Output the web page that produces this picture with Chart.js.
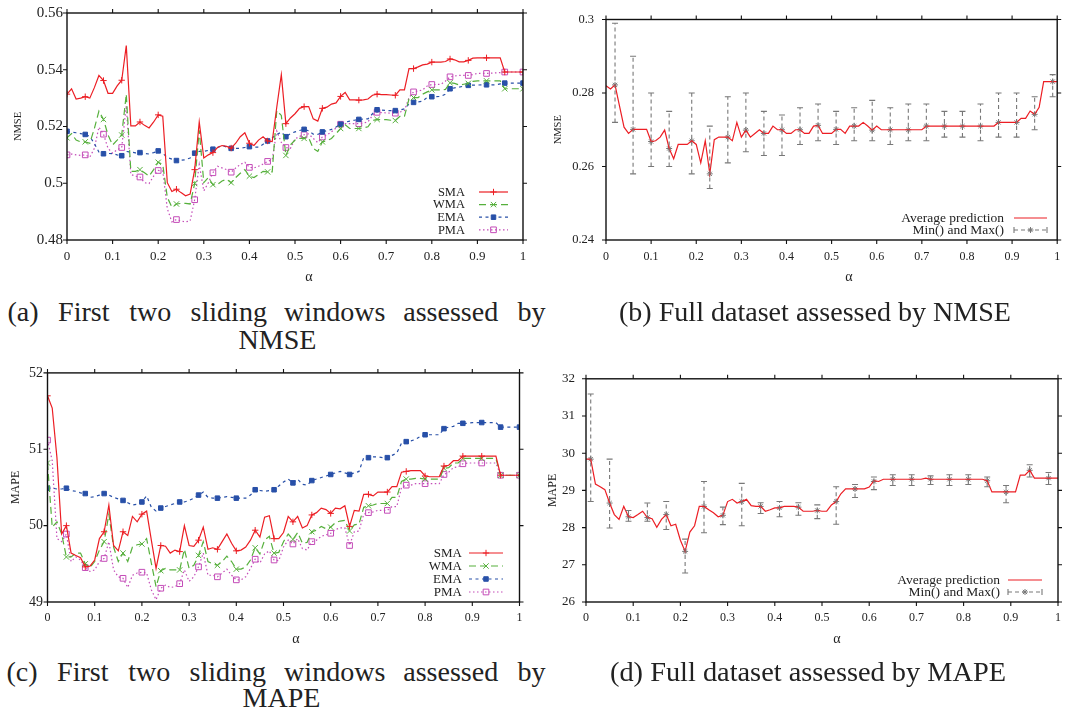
<!DOCTYPE html>
<html><head><meta charset="utf-8">
<script src="https://cdn.jsdelivr.net/npm/chart.js@4.4.1/dist/chart.umd.min.js"></script>
<style>
html,body{margin:0;padding:0;background:#fff;}
#page{position:relative;width:1070px;height:718px;overflow:hidden;font-family:"Liberation Serif","Times New Roman",serif;color:#222;background:#fff;}
.cv{position:absolute;}
.cap{position:absolute;font-size:27px;line-height:30px;white-space:nowrap;}
.just{display:flex;justify-content:space-between;}
.fit{display:inline-block;transform-origin:0 50%;}
</style></head><body>
<div id="page">
<canvas id="cA" class="cv" width="545" height="290" style="left:0px;top:0px"></canvas>
<canvas id="cB" class="cv" width="530" height="290" style="left:540px;top:0px"></canvas>
<canvas id="cC" class="cv" width="545" height="290" style="left:0px;top:360px"></canvas>
<canvas id="cD" class="cv" width="530" height="290" style="left:540px;top:360px"></canvas>
<div class="cap just" id="capA1" style="left:8px;top:297px;width:537px"></div>
<div class="cap" id="capA2" style="left:0px;top:325px;width:556px;text-align:center"></div>
<div class="cap" id="capB" style="left:619px;top:297px"><span class="fit" id="capBs"></span></div>
<div class="cap just" id="capC1" style="left:7px;top:657px;width:538px"></div>
<div class="cap" id="capC2" style="left:0px;top:683px;width:564px;text-align:center"></div>
<div class="cap" id="capD" style="left:610px;top:657px"><span class="fit" id="capDs"></span></div>
</div>
<script>
// ---------------- data ----------------
const alpha = [0,0.01,0.02,0.03,0.04,0.05,0.06,0.07,0.08,0.09,
0.10,0.11,0.12,0.13,0.14,0.15,0.16,0.17,0.18,0.19,
0.20,0.21,0.22,0.23,0.24,0.25,0.26,0.27,0.28,0.29,
0.30,0.31,0.32,0.33,0.34,0.35,0.36,0.37,0.38,0.39,
0.40,0.41,0.42,0.43,0.44,0.45,0.46,0.47,0.48,0.49,
0.50,0.51,0.52,0.53,0.54,0.55,0.56,0.57,0.58,0.59,
0.60,0.61,0.62,0.63,0.64,0.65,0.66,0.67,0.68,0.69,
0.70,0.71,0.72,0.73,0.74,0.75,0.76,0.77,0.78,0.79,
0.80,0.81,0.82,0.83,0.84,0.85,0.86,0.87,0.88,0.89,
0.90,0.91,0.92,0.93,0.94,0.95,0.96,0.97,0.98,0.99,1.00];

const maNames = ['SMA','WMA','EMA','PMA'];
const fullNames = ['Average prediction','Min() and Max()'];

// (a) NMSE, first two sliding windows
const aSMA = [.5314,.5333,.5297,.5300,.5305,.5300,.5337,.5380,.5362,.5317,
.5317,.5343,.5363,.5485,.5202,.5202,.5216,.5204,.5195,.5216,
.5241,.5236,.5002,.4971,.4979,.4967,.4956,.4962,.5048,.5216,
.5089,.5100,.5108,.5126,.5133,.5130,.5124,.5141,.5164,.5178,
.5141,.5133,.5152,.5164,.5149,.5147,.5268,.5383,.5210,.5230,
.5245,.5264,.5270,.5270,.5227,.5219,.5264,.5268,.5279,.5283,
.5306,.5320,.5294,.5294,.5293,.5294,.5297,.5310,.5314,.5312,
.5312,.5311,.5310,.5329,.5329,.5404,.5404,.5410,.5417,.5420,
.5427,.5427,.5427,.5429,.5438,.5435,.5428,.5428,.5433,.5441,
.5442,.5442,.5442,.5442,.5442,.5442,.5392,.5392,.5392,.5392,.5392];
const aWMA = [.5160,.5175,.5152,.5146,.5146,.5141,.5193,.5254,.5225,.5170,
.5135,.5152,.5170,.5314,.5042,.5042,.5048,.5037,.5025,.5048,
.5074,.5066,.4950,.4916,.4927,.4929,.4929,.4927,.4999,.5187,
.5002,.5020,.4995,.4996,.5008,.5014,.5002,.5020,.5035,.5048,
.5025,.5020,.5031,.5042,.5040,.5040,.5256,.5239,.5098,.5135,
.5152,.5158,.5158,.5160,.5123,.5112,.5146,.5150,.5158,.5175,
.5193,.5206,.5193,.5193,.5193,.5195,.5199,.5221,.5225,.5224,
.5224,.5222,.5221,.5236,.5236,.5297,.5302,.5302,.5314,.5322,
.5329,.5329,.5329,.5331,.5354,.5352,.5346,.5349,.5352,.5359,
.5361,.5361,.5361,.5361,.5361,.5361,.5333,.5333,.5333,.5333,.5333];
const aEMA = [.5183,.5180,.5178,.5175,.5172,.5165,.5140,.5110,.5104,.5105,
.5104,.5100,.5097,.5112,.5110,.5107,.5108,.5105,.5103,.5108,
.5114,.5105,.5091,.5085,.5080,.5081,.5083,.5089,.5106,.5112,
.5112,.5116,.5120,.5126,.5133,.5128,.5123,.5123,.5123,.5126,
.5129,.5127,.5127,.5137,.5149,.5160,.5172,.5180,.5164,.5175,
.5181,.5186,.5190,.5185,.5173,.5172,.5181,.5185,.5190,.5198,
.5208,.5215,.5219,.5222,.5225,.5226,.5227,.5245,.5259,.5258,
.5256,.5256,.5256,.5258,.5262,.5279,.5285,.5287,.5289,.5303,
.5305,.5305,.5306,.5314,.5333,.5336,.5339,.5342,.5345,.5346,
.5346,.5347,.5347,.5347,.5347,.5350,.5353,.5353,.5353,.5353,.5353];
const aPMA = [.5100,.5103,.5100,.5098,.5100,.5092,.5123,.5198,.5173,.5123,
.5106,.5118,.5126,.5273,.5031,.5025,.5022,.5002,.4999,.5025,
.5045,.5043,.4910,.4864,.4872,.4867,.4864,.4867,.4942,.5066,
.4973,.5002,.5037,.5060,.5054,.5048,.5039,.5054,.5066,.5074,
.5056,.5054,.5060,.5068,.5077,.5083,.5184,.5144,.5126,.5123,
.5156,.5165,.5171,.5174,.5158,.5143,.5163,.5170,.5181,.5195,
.5208,.5210,.5210,.5210,.5210,.5212,.5216,.5239,.5250,.5249,
.5248,.5247,.5247,.5251,.5256,.5302,.5322,.5325,.5329,.5343,
.5348,.5348,.5349,.5360,.5375,.5378,.5380,.5380,.5380,.5383,
.5387,.5387,.5387,.5388,.5389,.5390,.5392,.5392,.5392,.5392,.5392];

// (b) NMSE, full dataset
const bAvg = [.2820,.2811,.2822,.2764,.2707,.2690,.2701,.2701,.2701,.2701,
.2668,.2670,.2680,.2699,.2649,.2621,.2660,.2660,.2660,.2670,
.2660,.2610,.2670,.2580,.2673,.2680,.2680,.2680,.2670,.2720,
.2680,.2699,.2680,.2690,.2700,.2690,.2690,.2710,.2700,.2700,
.2690,.2690,.2700,.2700,.2690,.2690,.2710,.2712,.2690,.2690,
.2690,.2701,.2701,.2690,.2710,.2710,.2710,.2720,.2710,.2699,
.2710,.2700,.2700,.2700,.2700,.2700,.2700,.2700,.2700,.2700,
.2700,.2710,.2710,.2710,.2710,.2710,.2710,.2710,.2710,.2710,
.2710,.2710,.2710,.2710,.2710,.2710,.2710,.2720,.2720,.2720,
.2720,.2720,.2731,.2731,.2751,.2742,.2761,.2831,.2831,.2831,.2831];
const bErrX    = [0.02,0.06,0.10,0.14,0.19,0.23,0.27,0.31,0.35,0.39,0.43,0.47,0.51,0.55,0.59,0.63,0.67,0.71,0.75,0.79,0.83,0.87,0.91,0.95,0.99];
const bErrMean = [.2822,.2701,.2668,.2649,.2670,.2580,.2680,.2699,.2690,.2700,.2700,.2712,.2701,.2710,.2699,.2700,.2700,.2710,.2710,.2710,.2710,.2720,.2720,.2742,.2831];
const bErrMin  = [.272,.258,.260,.260,.258,.254,.261,.264,.263,.263,.266,.267,.266,.267,.267,.266,.267,.267,.268,.268,.267,.268,.268,.270,.279];
const bErrMax  = [.299,.290,.280,.275,.280,.271,.279,.280,.275,.274,.276,.277,.275,.276,.278,.276,.277,.277,.275,.275,.277,.280,.280,.279,.285];

// (c) MAPE, first two sliding windows
const cSMA = [51.70,51.54,50.89,49.89,50.00,49.64,49.61,49.58,49.46,49.47,
49.55,49.83,49.92,50.27,49.74,49.67,49.92,49.87,50.12,50.05,
50.15,50.19,49.81,49.44,49.74,49.73,49.64,49.68,49.66,50.00,
49.74,49.73,49.81,49.98,49.69,49.71,49.69,49.79,49.89,49.77,
49.67,49.68,49.72,49.81,49.94,49.85,50.11,50.13,49.83,49.83,
49.91,50.12,50.05,50.12,49.97,50.00,50.14,50.17,50.23,50.21,
50.16,50.23,50.22,50.26,49.99,50.20,50.19,50.41,50.41,50.39,
50.44,50.44,50.44,50.51,50.51,50.70,50.71,50.72,50.72,50.72,
50.65,50.64,50.64,50.64,50.78,50.79,50.85,50.85,50.91,50.91,
50.91,50.91,50.91,50.91,50.91,50.91,50.66,50.66,50.66,50.66,50.66];
const cWMA = [50.82,49.98,50.05,49.89,49.59,49.59,49.64,49.64,49.50,49.45,
49.53,49.68,49.79,50.15,49.72,49.53,49.64,49.53,49.72,49.75,
49.76,49.83,49.51,49.20,49.41,49.44,49.42,49.42,49.42,49.69,
49.44,49.48,49.61,49.79,49.53,49.50,49.48,49.53,49.60,49.53,
49.43,49.43,49.46,49.55,49.71,49.63,49.81,49.86,49.64,49.65,
49.79,49.89,49.82,49.91,49.77,49.78,49.92,49.94,49.99,49.96,
49.98,50.04,50.06,50.07,49.93,50.01,50.02,50.24,50.26,50.27,
50.29,50.29,50.29,50.37,50.37,50.58,50.61,50.61,50.62,50.62,
50.61,50.61,50.61,50.61,50.75,50.76,50.82,50.82,50.88,50.88,
50.88,50.88,50.88,50.88,50.88,50.88,50.66,50.66,50.66,50.66,50.66];
const cEMA = [50.49,50.49,50.48,50.48,50.49,50.46,50.45,50.43,50.42,50.37,
50.38,50.40,50.42,50.40,50.37,50.35,50.33,50.30,50.27,50.28,
50.31,50.39,50.24,50.19,50.23,50.25,50.27,50.29,50.31,50.31,
50.33,50.36,50.40,50.44,50.37,50.36,50.36,50.37,50.38,50.37,
50.36,50.36,50.36,50.40,50.47,50.46,50.45,50.46,50.47,50.52,
50.57,50.61,50.56,50.61,50.54,50.53,50.59,50.61,50.63,50.65,
50.67,50.69,50.71,50.69,50.67,50.69,50.71,50.89,50.89,50.90,
50.90,50.89,50.89,50.92,50.95,51.08,51.10,51.11,51.13,51.17,
51.19,51.19,51.19,51.19,51.27,51.29,51.30,51.34,51.34,51.34,
51.35,51.35,51.35,51.35,51.35,51.35,51.29,51.29,51.29,51.29,51.29];
const cPMA = [51.12,50.85,49.83,49.79,49.89,49.53,49.59,49.55,49.45,49.40,
49.42,49.53,49.57,49.79,49.42,49.33,49.31,49.19,49.35,49.38,
49.39,49.38,49.16,49.03,49.18,49.22,49.19,49.20,49.24,49.42,
49.27,49.33,49.46,49.64,49.35,49.35,49.33,49.38,49.43,49.35,
49.29,49.29,49.33,49.44,49.56,49.51,49.63,49.67,49.55,49.54,
49.72,49.81,49.76,49.83,49.70,49.68,49.79,49.81,49.86,49.88,
49.90,49.95,49.97,49.97,49.74,49.92,49.93,50.15,50.17,50.18,
50.20,50.20,50.20,50.25,50.25,50.50,50.53,50.53,50.55,50.55,
50.55,50.55,50.55,50.55,50.67,50.70,50.76,50.77,50.81,50.82,
50.82,50.82,50.82,50.82,50.82,50.82,50.66,50.66,50.66,50.66,50.66];

// (d) MAPE, full dataset
const dAvg = [29.84,29.84,29.17,29.10,29.02,28.66,28.35,28.22,28.57,28.29,
28.27,28.35,28.44,28.27,28.24,28.01,28.22,28.35,28.05,28.09,
27.66,27.36,27.88,28.05,28.57,28.57,28.48,28.40,28.29,28.33,
28.70,28.76,28.66,28.70,28.76,28.59,28.57,28.57,28.44,28.48,
28.53,28.53,28.57,28.57,28.57,28.55,28.44,28.44,28.44,28.46,
28.44,28.44,28.61,28.70,28.91,29.04,29.04,29.04,29.04,29.04,
29.09,29.26,29.24,29.30,29.30,29.30,29.30,29.30,29.30,29.30,
29.30,29.30,29.33,29.30,29.30,29.30,29.30,29.30,29.30,29.30,
29.30,29.30,29.30,29.30,29.30,29.26,28.96,28.96,28.96,28.96,
28.96,28.96,29.41,29.41,29.54,29.33,29.33,29.33,29.33,29.33,29.33];
const dErrX    = [0.01,0.05,0.09,0.13,0.17,0.21,0.25,0.29,0.33,0.37,0.41,0.45,0.49,0.53,0.57,0.61,0.65,0.69,0.73,0.77,0.81,0.85,0.89,0.94,0.98];
const dErrMean = [29.84,28.66,28.29,28.27,28.35,27.36,28.57,28.33,28.70,28.57,28.53,28.55,28.46,28.70,29.04,29.24,29.30,29.30,29.30,29.30,29.30,29.26,28.96,29.54,29.33];
const dErrMin  = [28.70,27.99,28.17,28.17,27.95,26.78,27.86,28.08,28.05,28.38,28.29,28.33,28.24,28.09,28.81,29.02,29.13,29.13,29.16,29.13,29.16,29.10,28.67,29.36,29.16];
const dErrMax  = [31.59,29.84,28.46,28.66,28.70,27.69,29.24,28.55,29.19,28.67,28.70,28.67,28.61,29.10,29.16,29.36,29.42,29.42,29.39,29.42,29.42,29.36,29.13,29.69,29.48];

// ticks
const xTicks = [0,0.1,0.2,0.3,0.4,0.5,0.6,0.7,0.8,0.9,1];
const xTickLabels = ['0','0.1','0.2','0.3','0.4','0.5','0.6','0.7','0.8','0.9','1'];
const aYTicks = [0.48,0.50,0.52,0.54,0.56];
const aYLabels = ['0.48','0.5','0.52','0.54','0.56'];
const bYTicks = [0.24,0.26,0.28,0.30];
const bYLabels = ['0.24','0.26','0.28','0.3'];
const cYTicks = [49,50,51,52];
const cYLabels = ['49','50','51','52'];
const dYTicks = [26,27,28,29,30,31,32];
const dYLabels = ['26','27','28','29','30','31','32'];

// captions
const capA = ['(a)','First','two','sliding','windows','assessed','by'];
const capA2 = 'NMSE';
const capBtxt = '(b) Full dataset assessed by NMSE';
const capC = ['(c)','First','two','sliding','windows','assessed','by'];
const capC2 = 'MAPE';
const capDtxt = '(d) Full dataset assessed by MAPE';

// ---------------- style ----------------
const FONT = '"Liberation Serif","Times New Roman",serif';
Chart.defaults.font.family = FONT;
Chart.defaults.color = '#222';
const RED='rgb(236,30,36)', GREEN='rgb(86,176,60)', BLUE='rgb(40,80,168)', MAG='rgb(196,76,184)', GREY='rgb(120,120,120)';

function pts(xs, ys){ return xs.map((x,i)=>({x:x, y:ys[i]})); }
const every4 = (r) => (c => (c.dataIndex % 4 === 0 ? r : 0));

function maSets(s, w, e, p){
  return [
    {label:maNames[0], data:pts(alpha,s), borderColor:RED, borderWidth:1.2, pointStyle:'cross', pointRadius:every4(3.2), pointBorderColor:RED, pointBorderWidth:1, pointBackgroundColor:RED, mk:'cross', mr:3.2, dash:[]},
    {label:maNames[1], data:pts(alpha,w), borderColor:GREEN, borderWidth:1.2, borderDash:[7,4], pointStyle:'crossRot', pointRadius:every4(3.8), pointBorderColor:GREEN, pointBorderWidth:1, pointBackgroundColor:GREEN, mk:'crossRot', mr:3.8, dash:[7,4]},
    {label:maNames[2], data:pts(alpha,e), borderColor:BLUE, borderWidth:1.2, borderDash:[3,3.5], pointStyle:'rect', pointRadius:every4(3.2), pointBorderColor:BLUE, pointBorderWidth:1, pointBackgroundColor:BLUE, mk:'rect', mr:3.2, mkFill:true, dash:[3,3.5]},
    {label:maNames[3], data:pts(alpha,p), borderColor:MAG, borderWidth:1.2, borderDash:[1.5,2.5], pointStyle:'rect', pointRadius:every4(4.0), pointBorderColor:MAG, pointBorderWidth:1, pointBackgroundColor:'rgba(255,255,255,0)', mk:'rect', mr:4.0, mkFill:false, dash:[1.5,2.5]}
  ];
}
function fullSets(avg, ex, em, emin, emax){
  return [
    {label:fullNames[0], data:pts(alpha,avg), borderColor:RED, borderWidth:1.2, pointRadius:0, dash:[]},
    {label:fullNames[1], data:pts(ex,em), showLine:false, borderColor:GREY, pointStyle:'star', pointRadius:3, pointBorderColor:GREY, pointBorderWidth:1, errMin:emin, errMax:emax, mk:'star', mr:3, dash:[4,3], caps:true}
  ];
}

function drawMarker(ctx, mk, x, y, r, color, fill){
  const d = r*Math.SQRT1_2;
  ctx.save(); ctx.setLineDash([]); ctx.strokeStyle=color; ctx.fillStyle=color; ctx.lineWidth=1;
  ctx.beginPath();
  if(mk==='cross'||mk==='star'){ ctx.moveTo(x-r,y); ctx.lineTo(x+r,y); ctx.moveTo(x,y-r); ctx.lineTo(x,y+r); }
  if(mk==='crossRot'||mk==='star'){ ctx.moveTo(x-d,y-d); ctx.lineTo(x+d,y+d); ctx.moveTo(x-d,y+d); ctx.lineTo(x+d,y-d); }
  if(mk==='rect'){ ctx.rect(x-d,y-d,2*d,2*d); if(fill) ctx.fill(); }
  ctx.stroke(); ctx.restore();
}

// frame with outward ticks on all four sides
const framePlugin = {id:'frame', afterDatasetsDraw(chart){
  const {ctx, chartArea:a} = chart; const x=chart.scales.x, y=chart.scales.y; const L=4;
  ctx.save(); ctx.setLineDash([]); ctx.strokeStyle='#111'; ctx.lineWidth=1.4;
  ctx.strokeRect(a.left, a.top, a.right-a.left, a.bottom-a.top);
  ctx.lineWidth=1.1; ctx.beginPath();
  x.ticks.forEach(t=>{ const px=x.getPixelForValue(t.value); ctx.moveTo(px,a.top); ctx.lineTo(px,a.top-L); ctx.moveTo(px,a.bottom); ctx.lineTo(px,a.bottom+L); });
  y.ticks.forEach(t=>{ const py=y.getPixelForValue(t.value); ctx.moveTo(a.left,py); ctx.lineTo(a.left-L,py); ctx.moveTo(a.right,py); ctx.lineTo(a.right+L,py); });
  ctx.stroke(); ctx.restore();
}};

// min/max bars
const errPlugin = {id:'errbars', afterDatasetsDraw(chart){
  const ctx=chart.ctx, xs=chart.scales.x, ys=chart.scales.y;
  chart.data.datasets.forEach(ds=>{
    if(!ds.errMin) return;
    ctx.save(); ctx.strokeStyle=ds.borderColor; ctx.lineWidth=1.1;
    ds.data.forEach((p,i)=>{
      const px=xs.getPixelForValue(p.x), p1=ys.getPixelForValue(ds.errMin[i]), p2=ys.getPixelForValue(ds.errMax[i]);
      ctx.setLineDash([4,3]); ctx.beginPath(); ctx.moveTo(px,p1); ctx.lineTo(px,p2); ctx.stroke();
      ctx.setLineDash([]); ctx.beginPath(); ctx.moveTo(px-3,p1); ctx.lineTo(px+3,p1); ctx.moveTo(px-3,p2); ctx.lineTo(px+3,p2); ctx.stroke();
    });
    ctx.restore();
  });
}};

// gnuplot-style key
const keyPlugin = {id:'gkey', afterDatasetsDraw(chart, args, o){
  const ctx=chart.ctx;
  ctx.save(); ctx.font = o.size+'px '+FONT; ctx.textAlign='right'; ctx.textBaseline='middle';
  chart.data.datasets.forEach((ds,i)=>{
    const y=o.y0+i*o.dy;
    ctx.fillStyle='#222'; ctx.fillText(ds.label, o.tx, y+0.5);
    ctx.strokeStyle=ds.borderColor; ctx.lineWidth=1.2; ctx.setLineDash(ds.dash||[]);
    ctx.beginPath(); ctx.moveTo(o.sx0,y); ctx.lineTo(o.sx1,y); ctx.stroke(); ctx.setLineDash([]);
    if(ds.caps){ ctx.lineWidth=1.1; ctx.beginPath(); ctx.moveTo(o.sx0,y-3); ctx.lineTo(o.sx0,y+3); ctx.moveTo(o.sx1,y-3); ctx.lineTo(o.sx1,y+3); ctx.stroke(); }
    if(ds.mk) drawMarker(ctx, ds.mk, (o.sx0+o.sx1)/2, y, ds.mr, ds.borderColor, ds.mkFill);
  });
  ctx.restore();
}};

// x-axis label (alpha)
const xlabPlugin = {id:'xlab', afterDraw(chart, args, o){
  const ctx=chart.ctx; ctx.save(); ctx.font=o.size+'px '+FONT; ctx.fillStyle='#222'; ctx.textAlign='center'; ctx.textBaseline='middle';
  ctx.fillText(o.text, o.x, o.y); ctx.restore();
}};

function makeChart(id, p){
  return new Chart(document.getElementById(id), {
    type:'line',
    data:{datasets:p.datasets},
    plugins:[framePlugin, errPlugin, keyPlugin, xlabPlugin],
    options:{
      responsive:false, animation:false, events:[],
      layout:{padding:p.pad},
      elements:{line:{tension:0, fill:false}},
      plugins:{legend:{display:false}, tooltip:{enabled:false},
        gkey:p.key, xlab:{text:'α', x:p.ax, y:p.ay, size:p.asz}},
      scales:{
        x:{type:'linear', min:0, max:1,
           afterBuildTicks:s=>{ s.ticks = xTicks.map(v=>({value:v})); },
           afterFit:s=>{ s.height = p.xh; },
           ticks:{font:{size:p.xfs}, padding:p.xpad, maxRotation:0, autoSkip:false, callback:(v,i)=>xTickLabels[i]},
           grid:{display:false, drawTicks:false}, border:{display:false}},
        y:{type:'linear', min:p.ymin, max:p.ymax,
           afterBuildTicks:s=>{ s.ticks = p.yt.map(v=>({value:v})); },
           afterFit:s=>{ s.width = p.yw; },
           ticks:{font:{size:p.yfs}, padding:p.ypad, autoSkip:false, callback:(v,i)=>p.yl[i]},
           title:{display:true, text:p.ytitle, font:{size:p.ytfs}, padding:{top:p.ytpad, bottom:0}},
           grid:{display:false, drawTicks:false}, border:{display:false}}
      }
    }
  });
}

makeChart('cA', {datasets:maSets(aSMA,aWMA,aEMA,aPMA), pad:{left:0,top:9,right:22,bottom:0},
  xh:50, yw:67, ymin:0.48, ymax:0.56, yt:aYTicks, yl:aYLabels, xfs:13, xpad:9, yfs:15, ypad:4,
  ytitle:'NMSE', ytfs:10.5, ytpad:11.7, ax:309, ay:277, asz:14,
  key:{size:12.5, tx:465, sx0:479, sx1:508, y0:192, dy:12.6}});

makeChart('cB', {datasets:fullSets(bAvg,bErrX,bErrMean,bErrMin,bErrMax), pad:{left:0,top:9,right:8,bottom:0},
  xh:50, yw:66, ymin:0.24, ymax:0.30, yt:bYTicks, yl:bYLabels, xfs:12, xpad:9.8, yfs:12.5, ypad:12,
  ytitle:'NMSE', ytfs:10.5, ytpad:11.7, ax:309, ay:277, asz:14,
  key:{size:13.5, tx:464, sx0:474, sx1:507, y0:218, dy:12}});

makeChart('cC', {datasets:maSets(cSMA,cWMA,cEMA,cPMA), pad:{left:0,top:11,right:25.5,bottom:0},
  xh:48, yw:47.5, ymin:49, ymax:52, yt:cYTicks, yl:cYLabels, xfs:12, xpad:8.8, yfs:14, ypad:4.5,
  ytitle:'MAPE', ytfs:12, ytpad:8.8, ax:296, ay:279, asz:14,
  key:{size:13, tx:462, sx0:469, sx1:503, y0:193, dy:13}});

makeChart('cD', {datasets:fullSets(dAvg,dErrX,dErrMean,dErrMin,dErrMax), pad:{left:0,top:11,right:12,bottom:0},
  xh:48, yw:46, ymin:26, ymax:32, yt:dYTicks, yl:dYLabels, xfs:12, xpad:8.8, yfs:13, ypad:11,
  ytitle:'MAPE', ytfs:12, ytpad:6, ax:297, ay:279, asz:14,
  key:{size:13.5, tx:460, sx0:468, sx1:502, y0:220, dy:12}});

// ---------------- captions ----------------
function fillJust(id, words){ const el=document.getElementById(id); words.forEach(w=>{ const s=document.createElement('span'); s.className='fit'; s.textContent=w; el.appendChild(s); }); }
fillJust('capA1', capA); fillJust('capC1', capC);
document.getElementById('capA2').innerHTML = '<span class="fit" style="transform-origin:50% 50%">'+capA2+'</span>';
document.getElementById('capC2').innerHTML = '<span class="fit" style="transform-origin:50% 50%">'+capC2+'</span>';
document.getElementById('capBs').textContent = capBtxt;
document.getElementById('capDs').textContent = capDtxt;
function fitCaps(){
  const b=document.getElementById('capBs'), d=document.getElementById('capDs');
  b.style.transform=''; d.style.transform='';
  const kb = 392 / b.getBoundingClientRect().width;
  const kd = 396 / d.getBoundingClientRect().width;
  b.style.transform='scaleX('+kb+')';
  d.style.transform='scaleX('+kd+')';
  document.querySelectorAll('.just .fit, #capA2 .fit, #capC2 .fit').forEach(s=>{ s.style.transform='scaleX('+kb+')'; if(!s.style.transformOrigin) s.style.transformOrigin='50% 50%'; });
}
fitCaps();
if(document.fonts && document.fonts.ready) document.fonts.ready.then(fitCaps);
</script>
</body></html>
